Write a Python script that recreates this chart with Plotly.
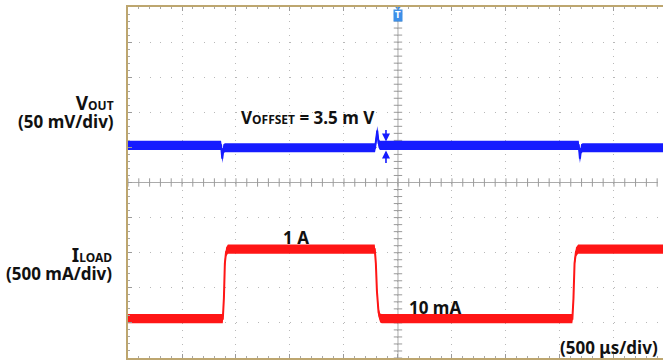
import numpy as np
import plotly.graph_objects as go

# Time base 500 us/div, trigger at t = 0 (screen centre)
t_iload = [-2500, -1622, -1612, -1603, -1592, -1575, -215, -205, -195, -180, -165, -150,
           1615, 1625, 1635, 1648, 1668, 2454]
iload_mA = [10, 10, 300, 800, 960, 1000, 1000, 800, 400, 100, 20, 10,
            10, 300, 800, 960, 1000, 1000]

t_vout = [-2500, -1638, -1627, -1617, -1602, -212, -192, -180, -168,
          1674, 1685, 1695, 1710, 2454]
vout_mV = [0, 0, -19, -5, -3.5, -3.5, 21, 3, 0,
           0, -19, -5, -3.5, -3.5]

# Channel scale (per division) and vertical position (divisions from centre)
VOUT_SCALE = 50.0
VOUT_POS = 1.06
ILOAD_SCALE = 500.0
ILOAD_POS = -3.90

T_DIV = 500.0
X_RANGE = [-2500, 2454]
Y_RANGE = [-5, 5]

BLUE = "rgb(22,28,255)"
RED = "rgb(255,22,22)"
FRAME = "#bda66f"
GRID = "#b8b8b8"
TEXT = "#111111"

# plot area geometry (pixels) used to place labels
X0_PX, W_PX = 128, 535
DIV_X_PX, DIV_Y_PX = 54.0, 35.1

vout_div = np.array([VOUT_POS + v / VOUT_SCALE for v in vout_mV])
iload_div = np.array([ILOAD_POS + i / ILOAD_SCALE for i in iload_mA])

fig = go.Figure()

# centre graticule with 1/5-division tick marks
yc = np.arange(-5, 5.001, 0.2)
xc = np.arange(-2500, 2454, T_DIV / 5)
fig.add_trace(go.Scatter(
    x=np.zeros_like(yc), y=yc, mode="lines+markers",
    line=dict(color="#ababab", width=1),
    marker=dict(symbol="line-ew", size=6, line=dict(color="#9a9a9a", width=1)),
    hoverinfo="skip"))
fig.add_trace(go.Scatter(
    x=xc, y=np.zeros_like(xc), mode="lines+markers",
    line=dict(color="#ababab", width=1),
    marker=dict(symbol="line-ns", size=6, line=dict(color="#9a9a9a", width=1)),
    hoverinfo="skip"))


def band(x, y, col, half, opacity):
    """Persistence band: fill between y-half and y+half."""
    fig.add_trace(go.Scatter(x=x, y=y - half, mode="lines", line=dict(width=0, color=col),
                             opacity=opacity, hoverinfo="skip"))
    fig.add_trace(go.Scatter(x=x, y=y + half, mode="lines", line=dict(width=0, color=col),
                             fill="tonexty", fillcolor=col, opacity=opacity,
                             hoverinfo="skip"))


for x, y, col in [(t_vout, vout_div, BLUE), (t_iload, iload_div, RED)]:
    band(x, y, col, 4.6 / DIV_Y_PX, 0.22)
    band(x, y, col, 2.9 / DIV_Y_PX, 1.0)
    fig.add_trace(go.Scatter(x=x, y=y, mode="lines", line=dict(color=col, width=2),
                             hoverinfo="skip"))

# trigger position marker
fig.add_trace(go.Scatter(x=[0], y=[5], mode="markers",
                         marker=dict(symbol="triangle-down", size=7, color="#3d8fe8"),
                         cliponaxis=False, hoverinfo="skip"))

font = dict(family="Noto Sans", size=17, color=TEXT, weight="bold")
ann = []


def px_to_paper(px):
    return (px - X0_PX) / W_PX


def px_to_t(px):
    return (px - 398) / DIV_X_PX * T_DIV


def px_to_div(py):
    return (182.5 - py) / DIV_Y_PX


def sized(s, px):
    return f"<span style='font-size:{px}px'>{s}</span>"


def label(text, px, py, xanchor="center", size=17, align="center"):
    f = dict(font)
    f["size"] = size
    ann.append(dict(text=text, x=px_to_paper(px), y=px_to_div(py), xref="paper", yref="y",
                    showarrow=False, xanchor=xanchor, yanchor="middle", align=align, font=f))


# channel captions: name on the first line, scale on the second
label(sized("V", 19) + sized("OUT", 12) + "<br>" + sized("(50 mV/div)", 17),
      116, 111.5, "right", 14, "right")
label(sized("I", 19) + sized("LOAD", 12) + "<br>" + sized("(500 mA/div)", 17),
      114, 263, "right", 14, "right")

label("V" + sized("OFFSET", 12) + " = 3.5 m V", 239, 117.5, "left")
label("1 A", 296, 237.5)
label("10 mA", 407, 307.5, "left")
label("(500 μs/div)", 660, 347.5, "right")

# offset arrows
xa = px_to_t(386)
for head, tail in [(px_to_div(141.5), px_to_div(128.5)), (px_to_div(150.5), px_to_div(164.5))]:
    ann.append(dict(x=xa, y=head, ax=xa, ay=tail, xref="x", yref="y",
                    axref="x", ayref="y", text="", showarrow=True,
                    arrowhead=2, arrowsize=1, arrowwidth=1.6, arrowcolor=BLUE))

# trigger badge
ann.append(dict(x=0, y=px_to_div(15.5), xref="x", yref="y", text="T", showarrow=False,
                font=dict(family="DejaVu Sans", size=8, color="white", weight="bold"),
                bgcolor="#3d8fe8", borderpad=1, xanchor="center", yanchor="middle"))

fig.update_layout(
    width=663, height=363,
    margin=dict(l=128, r=0, t=7, b=5),
    paper_bgcolor="white", plot_bgcolor="white",
    showlegend=False,
    annotations=ann,
    xaxis=dict(range=X_RANGE, tickmode="linear", tick0=-2500, dtick=T_DIV,
               showticklabels=False, showgrid=True, gridcolor=GRID, gridwidth=1,
               griddash="1px,6.02px", zeroline=False,
               showline=True, linecolor=FRAME, linewidth=2, mirror="ticks",
               ticks="inside", ticklen=4, tickcolor="#9a9a9a",
               minor=dict(dtick=T_DIV / 5, ticks="inside", ticklen=2,
                          tickcolor="#a8a8a8", showgrid=False),
               fixedrange=True),
    yaxis=dict(range=Y_RANGE, tickmode="linear", tick0=-5, dtick=1,
               showticklabels=False, showgrid=True, gridcolor=GRID, gridwidth=1,
               griddash="1px,9.8px", zeroline=False,
               showline=True, linecolor=FRAME, linewidth=2, mirror=False,
               ticks="inside", ticklen=4, tickcolor="#9a9a9a",
               minor=dict(dtick=0.2, ticks="inside", ticklen=2,
                          tickcolor="#a8a8a8", showgrid=False),
               fixedrange=True),
)

fig.write_html("out.html")
